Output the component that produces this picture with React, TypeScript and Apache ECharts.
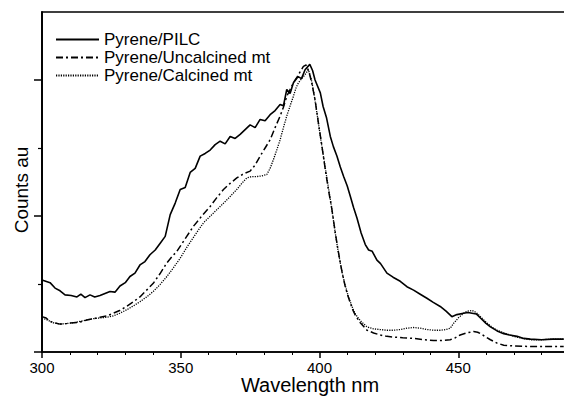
import React, { useEffect, useRef } from "react";
import * as echarts from "echarts";

const seriesNames = ["Pyrene/PILC", "Pyrene/Uncalcined mt", "Pyrene/Calcined mt"];
const xTickValues = [300, 350, 400, 450];

const pilcX = [300, 302.9, 304.7, 306.5, 308.3, 310.5, 312.6, 314, 315.5, 317.3, 319, 320.9, 322.7, 324.5, 326.3, 328.1, 330, 331.7, 333.5, 335.3, 337.1, 338.9, 340.8, 342.6, 344.4, 346.2, 348, 349.8, 351.6, 353.4, 355.2, 357, 358.8, 360.6, 362.4, 364.2, 366, 367.8, 369.6, 371.4, 373.2, 375, 376.8, 378.6, 380.4, 382.2, 384, 385.8, 387, 388.2, 389.4, 390.6, 392.3, 393.5, 394.8, 396.5, 397.5, 398.4, 400.3, 401.3, 402.5, 403.9, 405, 406.3, 407.5, 408.7, 410, 411.1, 412.3, 413.5, 415, 416.5, 417.7, 419, 420.7, 422, 424.3, 426.5, 429.1, 431.5, 433.9, 436.3, 438.7, 441, 443.5, 445.6, 447.7, 449.5, 451.9, 453.5, 455, 456.5, 458, 460, 461.6, 464, 466.4, 468.5, 471.2, 473.6, 476, 480, 484, 488];
const pilcY = [1.06, 1.02, 0.94, 0.9, 0.84, 0.83, 0.81, 0.85, 0.8, 0.84, 0.81, 0.83, 0.86, 0.89, 0.88, 0.97, 1.02, 1.11, 1.16, 1.28, 1.33, 1.43, 1.5, 1.6, 1.7, 2.02, 2.19, 2.39, 2.42, 2.64, 2.7, 2.88, 2.92, 2.97, 3.05, 3.1, 3.06, 3.17, 3.14, 3.2, 3.27, 3.34, 3.3, 3.42, 3.4, 3.49, 3.55, 3.64, 3.62, 3.86, 3.8, 3.96, 4.05, 4.02, 4.15, 4.23, 4.14, 4.0, 3.81, 3.61, 3.45, 3.17, 3.02, 2.88, 2.72, 2.58, 2.44, 2.29, 2.12, 1.97, 1.75, 1.58, 1.5, 1.48, 1.35, 1.3, 1.16, 1.1, 1.04, 0.96, 0.91, 0.85, 0.79, 0.73, 0.67, 0.6, 0.52, 0.55, 0.57, 0.58, 0.57, 0.56, 0.5, 0.42, 0.37, 0.31, 0.27, 0.25, 0.23, 0.2, 0.19, 0.18, 0.19, 0.19];

const uncX = [300, 301.5, 302.9, 304.5, 306.5, 309, 311.3, 313.7, 316.1, 318.5, 320.9, 323.3, 325.7, 328, 330.5, 333, 335.3, 337.7, 340.1, 342.5, 345, 346.8, 348.6, 351.5, 354.6, 357.6, 360.6, 363, 365.4, 367.8, 370.2, 372.6, 375, 376.8, 378.6, 380.4, 382.2, 384, 385.8, 387, 388.2, 389.4, 390.6, 392, 393, 394.2, 395.2, 396.2, 397.2, 398.4, 399.6, 400.9, 402.1, 403.2, 404.5, 405.7, 406.6, 407.5, 408.4, 409.3, 410.2, 411.1, 412, 412.9, 414.7, 417.1, 419.5, 421.9, 424.3, 426.7, 430, 433.9, 437.5, 441.1, 444, 447.1, 449, 450.7, 453, 455.5, 457, 458, 460, 461.6, 464, 466.4, 470, 476, 482, 488];
const uncY = [0.52, 0.5, 0.45, 0.43, 0.41, 0.42, 0.43, 0.44, 0.47, 0.49, 0.51, 0.53, 0.57, 0.61, 0.67, 0.74, 0.81, 0.91, 1.01, 1.15, 1.31, 1.4, 1.48, 1.66, 1.85, 2.0, 2.14, 2.27, 2.39, 2.48, 2.56, 2.62, 2.66, 2.75, 2.88, 3.0, 3.12, 3.3, 3.47, 3.6, 3.76, 3.86, 3.96, 4.05, 4.12, 4.2, 4.22, 4.12, 3.96, 3.71, 3.37, 3.02, 2.68, 2.39, 2.09, 1.75, 1.52, 1.31, 1.12, 0.96, 0.83, 0.72, 0.62, 0.54, 0.43, 0.32, 0.28, 0.25, 0.23, 0.22, 0.21, 0.2, 0.18, 0.17, 0.17, 0.18, 0.21, 0.25, 0.28, 0.3, 0.29, 0.27, 0.22, 0.18, 0.13, 0.1, 0.09, 0.08, 0.08, 0.08];

const calX = [300, 302, 304, 306.5, 309, 311.3, 313.7, 316.1, 318.5, 320.9, 323.3, 325.7, 328, 330.5, 333, 335.3, 337.7, 340.1, 342.5, 345, 347.4, 349.8, 352.5, 355.3, 358.2, 361.2, 364.2, 367.2, 370.2, 372, 373.8, 375.6, 377.4, 379.2, 381, 382.2, 383.4, 384.6, 385.8, 387, 388.2, 389.4, 390.6, 391.5, 392.4, 393.6, 394.8, 396, 397, 398, 399.2, 400.5, 401.8, 403, 404.2, 405.5, 406.4, 407.3, 408.2, 409.2, 410.1, 411, 412, 412.9, 414.7, 417.1, 419.5, 421.9, 424.3, 426.7, 429, 431.5, 433.9, 436.3, 438.7, 441.1, 443.5, 445.5, 447.1, 448.3, 450, 451.9, 453.2, 455, 456.5, 458, 460, 462, 464, 466.5, 470, 473, 476, 480, 484, 488];
const calY = [0.5, 0.47, 0.43, 0.41, 0.42, 0.43, 0.45, 0.47, 0.49, 0.5, 0.51, 0.53, 0.57, 0.62, 0.68, 0.74, 0.81, 0.89, 0.99, 1.11, 1.24, 1.38, 1.56, 1.73, 1.9, 2.02, 2.14, 2.26, 2.39, 2.48, 2.56, 2.58, 2.58, 2.59, 2.61, 2.7, 2.83, 2.97, 3.12, 3.3, 3.47, 3.62, 3.76, 3.88, 3.96, 4.02, 4.08, 4.15, 4.02, 3.8, 3.48, 3.12, 2.78, 2.47, 2.17, 1.8, 1.56, 1.35, 1.16, 0.99, 0.86, 0.75, 0.64, 0.56, 0.46, 0.37, 0.34, 0.33, 0.32, 0.32, 0.33, 0.35, 0.36, 0.35, 0.33, 0.32, 0.32, 0.33, 0.35, 0.42, 0.5, 0.57, 0.6, 0.61, 0.58, 0.52, 0.44, 0.37, 0.32, 0.28, 0.23, 0.2, 0.18, 0.18, 0.19, 0.19];

const yMajorTicks = [0, 2, 4];
const yMinorTicks = [1, 3];

const zip = (xs: number[], ys: number[]) => xs.map((x, i) => [x, ys[i]]);

const FONT = "'Liberation Sans', Arial, sans-serif";

export default function App() {
  const ref = useRef<HTMLDivElement>(null);
  useEffect(() => {
    if (!ref.current) return;
    const chart = echarts.init(ref.current, null, { renderer: "svg" });
    const yBase = {
      type: "value" as const,
      min: 0,
      max: 5,
      position: "left" as const,
      axisLabel: { show: false },
      splitLine: { show: false },
      axisLine: { show: true, lineStyle: { color: "#000", width: 1.5 } },
    };
    chart.setOption({
      animation: false,
      backgroundColor: "#fff",
      textStyle: { fontFamily: FONT, color: "#000" },
      grid: {
        left: 42,
        right: 3,
        top: 12,
        bottom: 44,
        show: true,
        borderColor: "#000",
        borderWidth: 1.5,
        backgroundColor: "transparent",
      },
      legend: {
        orient: "vertical",
        left: 55,
        top: 31,
        padding: 0,
        itemWidth: 43,
        itemHeight: 14,
        itemGap: 1,
        data: seriesNames,
        itemStyle: { color: "transparent", borderWidth: 0, opacity: 0 },
        textStyle: { fontSize: 17, color: "#000", fontFamily: FONT, lineHeight: 17 },
      },
      xAxis: {
        type: "value",
        min: 300,
        max: 500,
        interval: 50,
        axisLine: { lineStyle: { color: "#000", width: 1.5 } },
        axisTick: { show: true, length: 6, lineStyle: { color: "#000", width: 1.5 }, customValues: xTickValues },
        minorTick: { show: true, splitNumber: 5, length: 3, lineStyle: { color: "#000", width: 1 } },
        axisLabel: { fontSize: 15, lineHeight: 14, color: "#000", margin: 8, fontFamily: FONT, customValues: xTickValues },
        splitLine: { show: false },
      },
      yAxis: [
        {
          ...yBase,
          axisTick: { show: true, length: 8, lineStyle: { color: "#000", width: 1.5 }, customValues: yMajorTicks },
        },
        {
          ...yBase,
          axisTick: { show: true, length: 4, lineStyle: { color: "#000", width: 1.2 }, customValues: yMinorTicks },
        },
      ],
      graphic: [
        {
          type: "text",
          x: 310,
          y: 385,
          style: {
            text: "Wavelength nm",
            fontSize: 20,
            lineHeight: 19,
            fontFamily: FONT,
            fill: "#000",
            textAlign: "center",
            textVerticalAlign: "middle",
          },
        },
        {
          type: "text",
          x: 21,
          y: 190,
          rotation: Math.PI / 2,
          style: {
            text: "Counts au",
            fontSize: 19,
            fontFamily: FONT,
            fill: "#000",
            textAlign: "center",
            textVerticalAlign: "middle",
          },
        },
      ],
      series: [
        {
          name: seriesNames[0],
          type: "line",
          data: zip(pilcX, pilcY),
          symbol: "none",
          showSymbol: false,
          lineStyle: { color: "#000", width: 1.6, type: "solid" },
          itemStyle: { color: "#000" },
        },
        {
          name: seriesNames[1],
          type: "line",
          data: zip(uncX, uncY),
          symbol: "none",
          showSymbol: false,
          lineStyle: { color: "#000", width: 1.5, type: [7, 3, 2, 3] },
          itemStyle: { color: "#000" },
        },
        {
          name: seriesNames[2],
          type: "line",
          data: zip(calX, calY),
          symbol: "none",
          showSymbol: false,
          lineStyle: { color: "#000", width: 1.3, type: [1.2, 1.2] },
          itemStyle: { color: "#000" },
        },
      ],
    });
    return () => chart.dispose();
  }, []);
  return (
    <div
      style={{ position: "fixed", left: 0, top: 0, width: 564, height: 396, overflow: "hidden", background: "#fff" }}
    >
      <div ref={ref} style={{ width: 600, height: 396 }} />
    </div>
  );
}
